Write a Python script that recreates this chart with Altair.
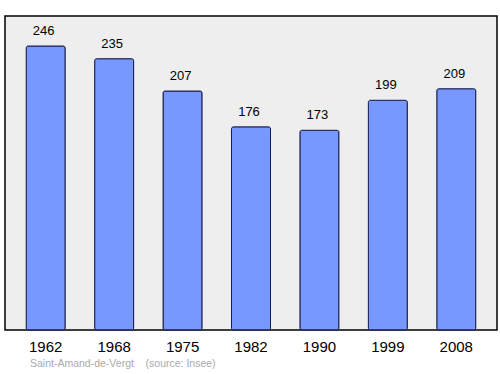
import altair as alt
import pandas as pd

years = ["1962", "1968", "1975", "1982", "1990", "1999", "2008"]
population = [246, 235, 207, 176, 173, 199, 209]
source_text = "Saint-Amand-de-Vergt\u00a0\u00a0\u00a0\u00a0(source: Insee)"

df = pd.DataFrame({"year": years, "pop": population})

x = alt.X("year:N", sort=years, title=None,
          scale=alt.Scale(paddingInner=0.43, paddingOuter=0.31),
          axis=alt.Axis(labelAngle=0, ticks=False, domain=False, labelFontSize=15,
                        labelFont="Liberation Sans", labelColor="#000000", labelPadding=9))
y = alt.Y("pop:Q", scale=alt.Scale(domain=[0, 272], nice=False, zero=True), axis=None)

bars = alt.Chart(df).mark_bar(color="#7799ff", stroke="#1a1a4d", strokeWidth=1,
                              cornerRadius=2).encode(x=x, y=y)
labels = alt.Chart(df).mark_text(baseline="middle", dy=-15, dx=-2, fontSize=13,
                                 font="Liberation Sans", color="#000000").encode(
    x=x, y=y, text="pop:Q")
src = alt.Chart(pd.DataFrame({"t": [source_text]})).mark_text(
    align="left", baseline="middle", fontSize=10.5, font="Liberation Sans", color="#aaaaaa"
).encode(x=alt.value(25), y=alt.value(348), text="t:N")

chart = (bars + labels + src).properties(
    width=492, height=314,
    autosize=alt.AutoSizeParams(type="none"),
    padding={"left": 5, "top": 16, "right": 3, "bottom": 44},
    background="#ffffff",
).configure_view(fill="#eeeeee", stroke="#000000", strokeWidth=1.5)

chart.save("out.html", embed_options={"renderer": "svg", "actions": False})
